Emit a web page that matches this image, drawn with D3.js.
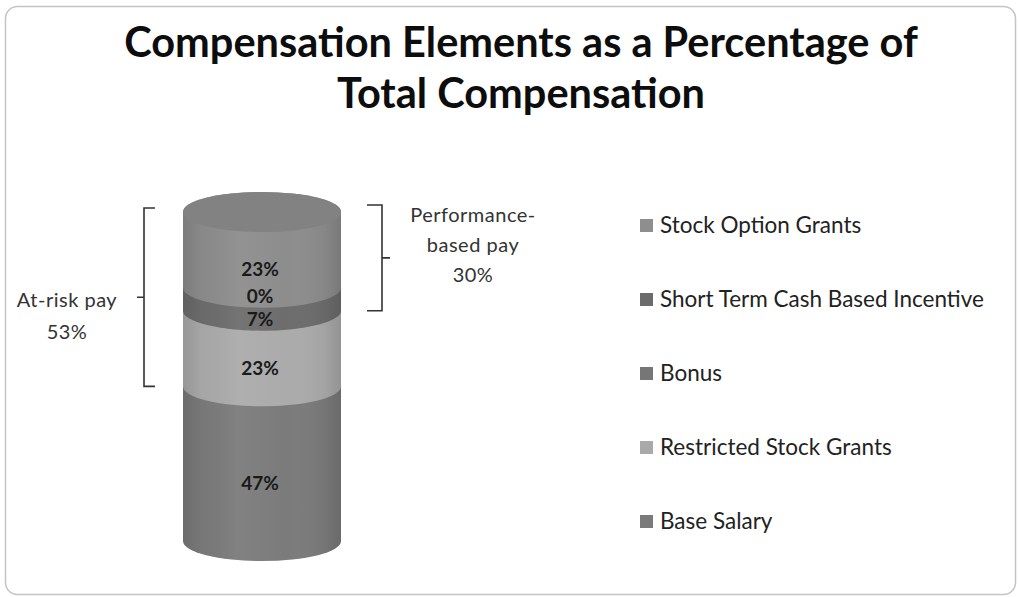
<!DOCTYPE html>
<html>
<head>
<meta charset="utf-8">
<script src="https://cdn.jsdelivr.net/npm/d3@7"></script>
<style>
  body { margin: 0; background: #fff; }
  text { font-family: Lato, "Open Sans", sans-serif; }
</style>
</head>
<body>
<div id="chart"></div>
<script>
// stacked bottom -> top
var series = ["Base Salary", "Restricted Stock Grants", "Bonus", "Short Term Cash Based Incentive", "Stock Option Grants"];
var values = [47, 23, 7, 0, 23];
var colors = ["#7b7b7b", "#ababab", "#6d6d6d", "#696969", "#8d8d8d"];
var legendColors = ["#7a7a7a", "#a9a9a9", "#767676", "#6b6b6b", "#8e8e8e"];
var titleLines = ["Compensation Elements as a Percentage of", "Total Compensation"];
var atRisk = {label: ["At-risk pay", "53%"], from: 1, to: 4};
var perf = {label: ["Performance-", "based pay", "30%"], from: 2, to: 4};

var W = 1018, H = 597;
var svg = d3.select("#chart").append("svg")
    .attr("width", W)
    .attr("height", H);

svg.append("rect")
    .attr("x", 5.5).attr("y", 6.5)
    .attr("width", 1010).attr("height", 588)
    .attr("rx", 12)
    .attr("fill", "#fff")
    .attr("stroke", "#c4c4c4")
    .attr("stroke-width", 1.5);

// title
svg.append("g").selectAll("text")
    .data(titleLines)
    .join("text")
    .attr("x", 521)
    .attr("y", (d, i) => 57 + i * 51)
    .attr("text-anchor", "middle")
    .attr("font-size", 41.5)
    .attr("font-weight", "bold")
    .attr("fill", "#0d0d0d")
    .text(d => d);

// cylinder
var cx = 262, rx = 79, ry = 20;
var y = d3.scaleLinear().domain([0, 100]).range([541, 212]);

var stack = [];
var acc = 0;
values.forEach((v, i) => {
    stack.push({name: series[i], value: v, y0: acc, y1: acc + v, color: colors[i]});
    acc += v;
});

function bodyPath(a, b) {
    var yb = y(a), yt = y(b);
    return "M" + (cx - rx) + "," + yt +
        "L" + (cx - rx) + "," + yb +
        "A" + rx + "," + ry + " 0 0 0 " + (cx + rx) + "," + yb +
        "L" + (cx + rx) + "," + yt +
        "A" + rx + "," + ry + " 0 0 0 " + (cx - rx) + "," + yt + "Z";
}

var defs = svg.append("defs");
var grad = defs.append("linearGradient").attr("id", "shade")
    .attr("x1", "0%").attr("x2", "100%");
[[0, "#000", 0.12], [0.12, "#000", 0.03], [0.35, "#fff", 0.05], [0.65, "#fff", 0.0], [0.9, "#000", 0.05], [1, "#000", 0.14]]
    .forEach(s => grad.append("stop").attr("offset", s[0]).attr("stop-color", s[1]).attr("stop-opacity", s[2]));

var cyl = svg.append("g");
cyl.selectAll("path.seg")
    .data(stack.filter(d => d.value > 0))
    .join("path")
    .attr("class", "seg")
    .attr("d", d => bodyPath(d.y0, d.y1))
    .attr("fill", d => d.color);

cyl.append("path")
    .attr("d", bodyPath(0, acc))
    .attr("fill", "url(#shade)");

cyl.append("ellipse")
    .attr("cx", cx).attr("cy", y(acc))
    .attr("rx", rx).attr("ry", ry)
    .attr("fill", "#828282");

// data labels, nudged upward when they collide
var labelPos = [];
var last = Infinity;
stack.forEach(d => {
    var ly = (y(d.y0) + y(d.y1)) / 2 + 20;
    if (ly > last - 23) ly = last - 23;
    labelPos.push(ly);
    last = ly;
});
cyl.selectAll("text")
    .data(stack)
    .join("text")
    .attr("x", cx - 2)
    .attr("y", (d, i) => labelPos[i] + 6.5)
    .attr("text-anchor", "middle")
    .attr("font-size", 19)
    .attr("font-weight", "bold")
    .attr("fill", "#1a1a1a")
    .text(d => d.value + "%");

// brackets
var brk = svg.append("g").attr("fill", "none").attr("stroke", "#333").attr("stroke-width", 1.6);
var aTop = y(stack[atRisk.to].y1) - 4, aBot = y(stack[atRisk.from].y0);
brk.append("path")
    .attr("d", "M155," + aTop + "H144V" + aBot + "H155M144," + (aTop + aBot) / 2 + "H137");
var pTop = y(stack[perf.to].y1) - 7, pBot = y(stack[perf.from].y0);
brk.append("path")
    .attr("d", "M367," + pTop + "H382V" + pBot + "H367M382," + (pTop + pBot) / 2 + "H390");

svg.append("g").selectAll("text")
    .data(atRisk.label)
    .join("text")
    .attr("x", 67)
    .attr("y", (d, i) => 307 + i * 32)
    .attr("text-anchor", "middle")
    .attr("font-size", 20)
    .attr("letter-spacing", 0.5)
    .attr("fill", "#333")
    .text(d => d);

svg.append("g").selectAll("text")
    .data(perf.label)
    .join("text")
    .attr("x", 473)
    .attr("y", (d, i) => 222 + i * 30)
    .attr("text-anchor", "middle")
    .attr("font-size", 20)
    .attr("letter-spacing", 0.5)
    .attr("fill", "#333")
    .text(d => d);

// legend (reverse order, like the stack)
var legend = svg.append("g").selectAll("g")
    .data(series.map((s, i) => ({name: s, color: legendColors[i]})).reverse())
    .join("g")
    .attr("transform", (d, i) => "translate(640," + (225 + i * 74) + ")");
legend.append("rect")
    .attr("x", 0).attr("y", -6)
    .attr("width", 13).attr("height", 13)
    .attr("fill", d => d.color);
legend.append("text")
    .attr("x", 20).attr("y", 8)
    .attr("font-size", 22.5)
    .attr("fill", "#222")
    .text(d => d.name);
</script>
</body>
</html>
